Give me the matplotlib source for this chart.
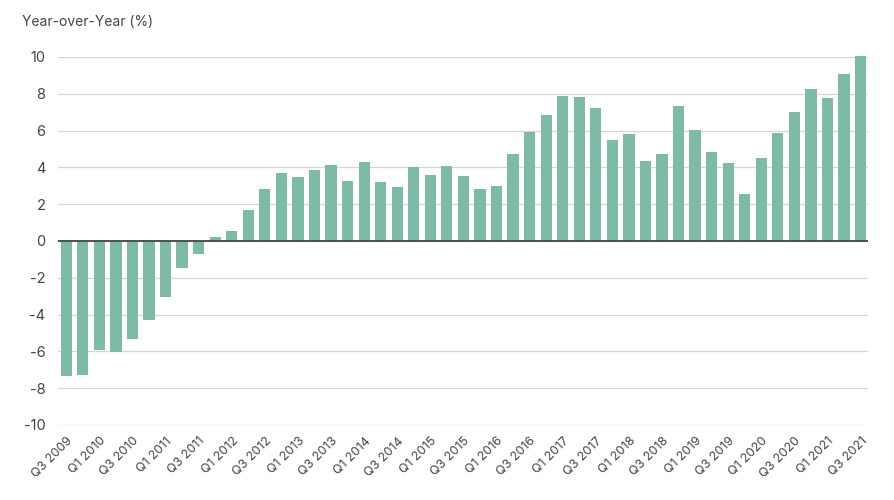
import matplotlib
matplotlib.use("Agg")
import matplotlib.pyplot as plt

quarters = []
for y in range(2009, 2022):
    for q in range(1, 5):
        if (y == 2009 and q < 3) or (y == 2021 and q > 3):
            continue
        quarters.append(f"Q{q} {y}")

values = [-7.35, -7.3, -5.95, -6.05, -5.3, -4.3, -3.05, -1.45, -0.7, 0.2,
          0.55, 1.7, 2.8, 3.7, 3.5, 3.85, 4.15, 3.25, 4.3, 3.2,
          2.95, 4.0, 3.6, 4.1, 3.55, 2.85, 3.0, 4.75, 5.9, 6.85,
          7.9, 7.85, 7.25, 5.5, 5.8, 4.35, 4.75, 7.35, 6.05, 4.85,
          4.25, 2.55, 4.5, 5.85, 7.0, 8.25, 7.75, 9.05, 10.05]

yticks = [-10, -8, -6, -4, -2, 0, 2, 4, 6, 8, 10]

plt.rcParams['font.family'] = ['Inter', 'DejaVu Sans']

fig = plt.figure(figsize=(8.95, 5.0), dpi=100)
ax = fig.add_axes([58/895, 1-425/500, (868-58)/895, (425-57)/500])

x = list(range(len(values)))
bars = ax.bar(x, values, width=0.68, color='#7dbaa8', zorder=3)
for b in bars:
    b.set_clip_on(False)

ax.set_ylim(-10, 10)
ax.set_xlim(-0.5, len(values) - 0.55)
ax.set_yticks(yticks)
ax.set_yticklabels([str(t) for t in yticks], fontsize=10.5, color='#444444')
ax.yaxis.grid(True, color='#d5d5d5', linewidth=0.9, zorder=0)
ax.axhline(0, color='#444444', linewidth=1.3, zorder=4)

ax.set_xticks(x[::2])
ax.set_xticklabels(quarters[::2], rotation=45, ha='right', rotation_mode='anchor',
                   fontsize=9, color='#444444')
ax.tick_params(axis='both', length=0)
ax.tick_params(axis='x', pad=7)
ax.tick_params(axis='y', pad=9)
for s in ax.spines.values():
    s.set_visible(False)

fig.text(22/895, 1-22/500, "Year-over-Year (%)", fontsize=10, color='#444444',
         ha='left', va='center')

fig.savefig("out.png", dpi=100, facecolor='white')
